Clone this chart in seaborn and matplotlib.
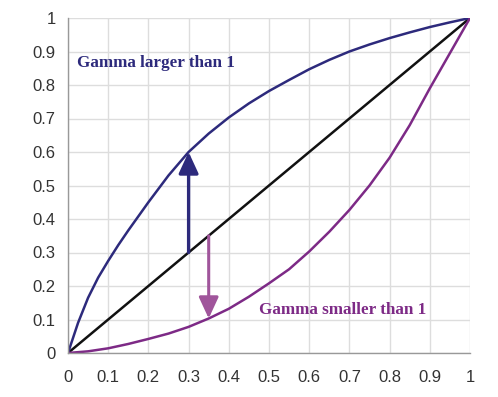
import matplotlib
matplotlib.use("Agg")
import matplotlib.pyplot as plt
import seaborn as sns
import numpy as np

x_larger = [0, 0.025, 0.05, 0.075, 0.1, 0.125, 0.15, 0.175, 0.2, 0.25, 0.3, 0.35, 0.4,
            0.45, 0.5, 0.55, 0.6, 0.65, 0.7, 0.75, 0.8, 0.85, 0.9, 0.95, 1.0]
larger = [0, 0.09, 0.165, 0.225, 0.275, 0.322, 0.366, 0.408, 0.45, 0.53, 0.60, 0.655, 0.703,
          0.745, 0.782, 0.815, 0.847, 0.875, 0.90, 0.921, 0.94, 0.957, 0.973, 0.987, 1.0]
x_smaller = [0, 0.05, 0.1, 0.15, 0.2, 0.25, 0.3, 0.35, 0.4, 0.45, 0.5,
             0.55, 0.6, 0.65, 0.7, 0.75, 0.8, 0.85, 0.9, 0.95, 1.0]
smaller = [0, 0.005, 0.014, 0.027, 0.042, 0.058, 0.078, 0.103, 0.132, 0.168, 0.208,
           0.25, 0.303, 0.362, 0.427, 0.50, 0.583, 0.68, 0.79, 0.895, 1.0]
identity_x = [0, 1]
identity_y = [0, 1]
ticks = [0, 0.1, 0.2, 0.3, 0.4, 0.5, 0.6, 0.7, 0.8, 0.9, 1]
tick_labels = ["0", "0.1", "0.2", "0.3", "0.4", "0.5", "0.6", "0.7", "0.8", "0.9", "1"]

sns.set_style("white")
plt.rcParams['font.family'] = ['Liberation Sans', 'DejaVu Sans']

fig = plt.figure(figsize=(4.98, 3.97), dpi=100)
ax = fig.add_axes([68/498, 1-353/397, (470-68)/498, (353-18)/397])

navy = "#2d2a7c"
purple = "#7d2a86"
sns.lineplot(x=identity_x, y=identity_y, ax=ax, color="#111111", lw=1.8)
sns.lineplot(x=x_larger, y=larger, ax=ax, color=navy, lw=1.8)
sns.lineplot(x=x_smaller, y=smaller, ax=ax, color=purple, lw=1.8)

ax.annotate("", xy=(0.3, 0.6), xytext=(0.3, 0.3),
            arrowprops=dict(arrowstyle="-|>,head_length=0.65,head_width=0.3",
                            mutation_scale=20,
                            color=navy, lw=2.4, shrinkA=0, shrinkB=0))
ax.annotate("", xy=(0.35, 0.103), xytext=(0.35, 0.35),
            arrowprops=dict(arrowstyle="-|>,head_length=0.65,head_width=0.3",
                            mutation_scale=20,
                            color="#a0559b", lw=2.2, shrinkA=0, shrinkB=0))

ax.text(0.022, 0.866, "Gamma larger than 1", color=navy, fontsize=12.3,
        fontweight="bold", family="Liberation Serif", va="center", ha="left")
ax.text(0.475, 0.128, "Gamma smaller than 1", color=purple, fontsize=12.3,
        fontweight="bold", family="Liberation Serif", va="center", ha="left")

ax.set_xlim(0, 1)
ax.set_ylim(0, 1)
ax.set_xticks(ticks)
ax.set_yticks(ticks)
ax.set_xticklabels(tick_labels)
ax.set_yticklabels(tick_labels)
ax.grid(True, color="#dddddd", lw=1)
ax.set_axisbelow(True)
for s in ["top", "right"]:
    ax.spines[s].set_visible(False)
for s in ["left", "bottom"]:
    ax.spines[s].set_color("#999999")
    ax.spines[s].set_linewidth(1)
ax.tick_params(axis="both", length=4, width=1, color="#999999",
               labelsize=12, labelcolor="#333333", direction="out", pad=8)
ax.tick_params(axis="y", pad=5)

fig.savefig("out.png", dpi=100)
